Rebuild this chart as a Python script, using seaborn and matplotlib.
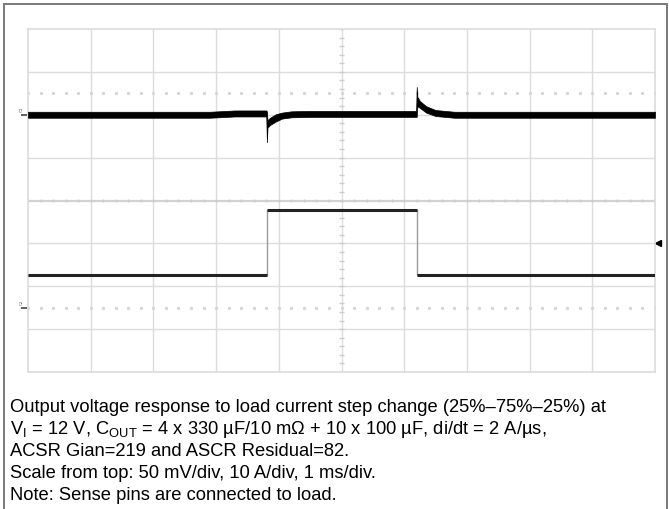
import matplotlib
matplotlib.use("Agg")
import matplotlib.pyplot as plt
from matplotlib.patches import Rectangle
import seaborn as sns
import numpy as np

# --- data (units: divisions) ---
# output voltage trace, 50 mV/div: lower / upper edge of the noisy band
t_v = [0.0, 2.90, 3.30, 3.80, 3.81, 3.82, 3.86, 3.95, 4.05, 4.20, 4.50,
       6.19, 6.20, 6.21, 6.25, 6.35, 6.50, 6.80, 10.0]
v_lo = [5.93, 5.93, 5.96, 5.96, 5.36, 5.70, 5.76, 5.84, 5.91, 5.94, 5.95,
        5.95, 5.95, 6.20, 6.16, 6.05, 5.97, 5.93, 5.93]
v_hi = [6.07, 6.07, 6.10, 6.10, 6.08, 5.87, 5.93, 6.01, 6.05, 6.08, 6.09,
        6.09, 6.65, 6.42, 6.32, 6.20, 6.11, 6.07, 6.07]

# load current, 10 A/div
t_i = [0.0, 3.81, 3.81, 6.20, 6.20, 10.0]
i_lvl = [2.26, 2.26, 3.78, 3.78, 2.26, 2.26]

n_xdiv = 10
n_ydiv = 8
ch_rows = [6.5, 1.5]          # channel reference rows (C1, C2)
ch_names = ["C1", "C2"]
ch_marks = [6.03, 1.52]
trig_level = 3.0

caption = [
    "Output voltage response to load current step change (25%\u201375%\u201325%) at",
    "V$_\\mathregular{I}$ = 12 V, C$_\\mathregular{OUT}$ = 4 x 330 \u00b5F/10 m\u03a9 + 10 x 100 \u00b5F, di/dt = 2 A/\u00b5s,",
    "ACSR Gian=219 and ASCR Residual=82.",
    "Scale from top: 50 mV/div, 10 A/div, 1 ms/div.",
    "Note: Sense pins are connected to load.",
]

sns.set_theme(style="white")
plt.rcParams['font.family'] = ['Liberation Sans', 'DejaVu Sans']
plt.rcParams['mathtext.fontset'] = 'custom'
plt.rcParams['mathtext.rm'] = 'Liberation Sans'

W, H = 669, 509
fig = plt.figure(figsize=(W / 100, H / 100), dpi=100)
fig.patches.append(Rectangle((4 / W, -0.01), 663 / W, 1 - 4 / H + 0.01,
                             transform=fig.transFigure, fill=False,
                             edgecolor="#7a7a7a", lw=1.4))

ax = fig.add_axes([28 / W, 1 - 372 / H, 627 / W, 343 / H])
ax.set_xlim(0, n_xdiv)
ax.set_ylim(0, n_ydiv)
ax.set_xticks([])
ax.set_yticks([])
for s in ax.spines.values():
    s.set_color("#dcdcdc")
    s.set_linewidth(1.2)

grid_c = "#dcdcdc"
for gx in range(1, n_xdiv):
    ax.axvline(gx, color=grid_c, lw=1.0, zorder=1)
for gy in range(1, n_ydiv):
    ax.axhline(gy, color="#d2d2d2" if gy == n_ydiv // 2 else grid_c,
               lw=1.6 if gy == n_ydiv // 2 else 1.0, zorder=1)

# minor ticks on the centre cross
fine_x = np.arange(0, n_xdiv + 0.01, 0.2)
fine_y = np.arange(0, n_ydiv + 0.01, 0.2)
ax.vlines(fine_x, n_ydiv / 2 - 0.04, n_ydiv / 2 + 0.04, color="#cccccc", lw=1.0, zorder=1)
ax.hlines(fine_y, n_xdiv / 2 - 0.04, n_xdiv / 2 + 0.04, color="#cccccc", lw=1.0, zorder=1)
for r in ch_rows:
    ax.plot(fine_x, np.full_like(fine_x, r), ls="none", marker="s", ms=1.2,
            color="#d6d6d6", zorder=1)

# voltage trace
ax.fill_between(t_v, v_lo, v_hi, color="black", lw=0.5, zorder=3)

# current trace: thin edges, heavy flat levels
sns.lineplot(x=t_i, y=i_lvl, sort=False, ax=ax, color="#9a9a9a", lw=1.0,
             estimator=None, zorder=3)
ax.hlines([i_lvl[0], i_lvl[2], i_lvl[4]], [t_i[0], t_i[2], t_i[4]],
          [t_i[1], t_i[3], t_i[5]], color="#222222", lw=2.2, zorder=4)

# channel markers and trigger arrow
for name, m in zip(ch_names, ch_marks):
    ax.text(-0.1, m + 0.1, name, rotation=90, fontsize=3, color="#555555",
            ha="center", va="center", clip_on=False)
    ax.plot([-0.06], [m - 0.03], marker="_", ms=4, mew=1.2, color="#444444", clip_on=False)
ax.plot([n_xdiv + 0.04], [trig_level], marker="<", ms=4, color="black", clip_on=False)

for k, line in enumerate(caption):
    fig.text(10 / W, 1 - (408 + 22 * k) / H, line, fontsize=13.2,
             color="black", va="center", ha="left")

fig.savefig("out.png", dpi=100)
